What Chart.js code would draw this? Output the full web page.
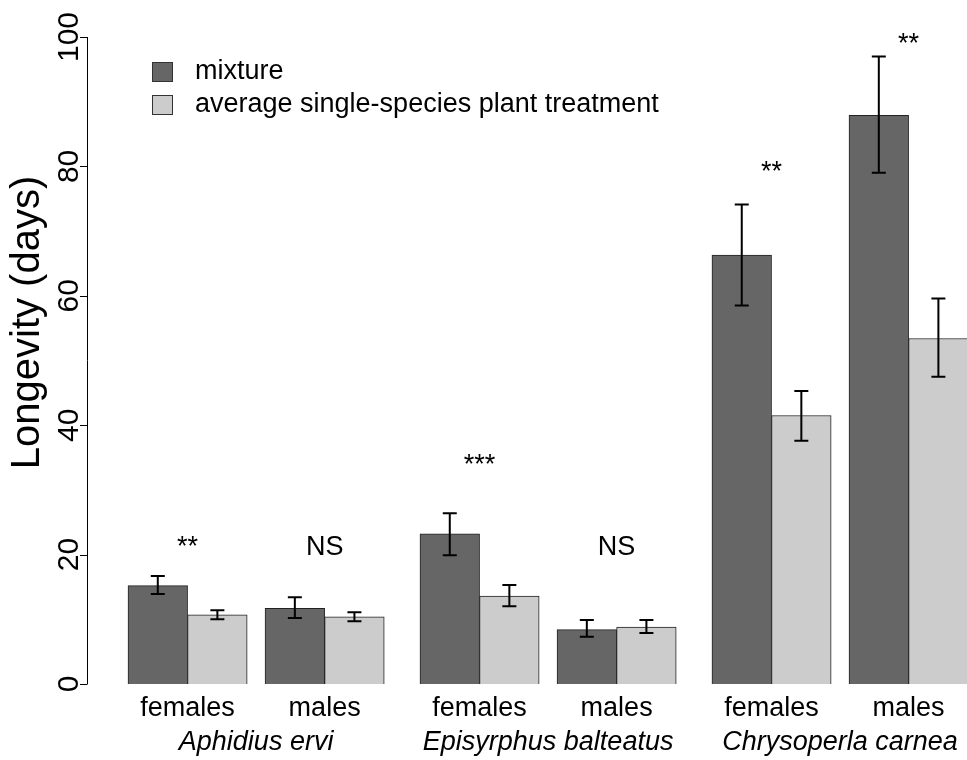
<!DOCTYPE html>
<html>
<head>
<meta charset="utf-8">
<script src="https://cdn.jsdelivr.net/npm/chart.js@4"></script>
<style>
  body { margin: 0; background: #fff; }
  #box { width: 967px; height: 760px; }
</style>
</head>
<body>
<div id="box"><canvas id="grafico" width="967" height="760"></canvas></div>
<script>
// valores (dias)
const sexos = ['females', 'males', 'females', 'males', 'females', 'males'];
const especies = ['Aphidius ervi', 'Episyrphus balteatus', 'Chrysoperla carnea'];
const mistura = [15.2, 11.7, 23.2, 8.4, 66.3, 87.9];
const misturaMin = [13.9, 10.2, 19.9, 7.3, 58.5, 79.0];
const misturaMax = [16.7, 13.4, 26.4, 9.9, 74.1, 97.0];
const media = [10.7, 10.4, 13.6, 8.8, 41.5, 53.4];
const mediaMin = [10.0, 9.7, 12.0, 7.9, 37.6, 47.5];
const mediaMax = [11.4, 11.1, 15.3, 9.9, 45.3, 59.6];
const signif = ['**', 'NS', '***', 'NS', '**', '**'];
const signifY = [20.0, 20.0, 32.6, 20.0, 77.9, 97.7];
const ticksY = [0, 20, 40, 60, 80, 100];

// espacamento tipo barplot do R (unidade = largura de uma barra)
const espacoSexo = 0.3;
const espacoEspecie = 0.6;
let inicios = [];
let pos = 0;
for (let i = 0; i < sexos.length; i++) {
    inicios.push(pos);
    pos += 2 + (i % 2 === 0 ? espacoSexo : espacoEspecie);
}
const centros = inicios.map(s => s + 1);

const fonte = '"Liberation Sans", Arial, sans-serif';

const desenhoR = {
    id: 'desenhoR',
    afterDatasetsDraw(chart) {
        const ctx = chart.ctx;
        const x = chart.scales.x, y = chart.scales.y;
        const area = chart.chartArea;
        ctx.save();

        // barras de erro
        ctx.strokeStyle = '#000';
        ctx.lineWidth = 2;
        const barras = [[0.5, misturaMin, misturaMax], [1.5, mediaMin, mediaMax]];
        for (let i = 0; i < sexos.length; i++) {
            for (let b of barras) {
                let px = x.getPixelForValue(inicios[i] + b[0]);
                let y1 = y.getPixelForValue(b[1][i]);
                let y2 = y.getPixelForValue(b[2][i]);
                ctx.beginPath();
                ctx.moveTo(px, y1); ctx.lineTo(px, y2);
                ctx.moveTo(px - 7, y1); ctx.lineTo(px + 7, y1);
                ctx.moveTo(px - 7, y2); ctx.lineTo(px + 7, y2);
                ctx.stroke();
            }
        }

        // asteriscos / NS
        ctx.fillStyle = '#000';
        ctx.textAlign = 'center';
        ctx.textBaseline = 'alphabetic';
        ctx.font = '27px ' + fonte;
        for (let i = 0; i < signif.length; i++) {
            ctx.fillText(signif[i], x.getPixelForValue(centros[i]), y.getPixelForValue(signifY[i]));
        }

        // eixo y
        ctx.lineWidth = 1;
        ctx.strokeStyle = '#000';
        let xe = area.left;
        ctx.beginPath();
        ctx.moveTo(xe + 0.5, y.getPixelForValue(ticksY[0]));
        ctx.lineTo(xe + 0.5, y.getPixelForValue(ticksY[ticksY.length - 1]));
        for (let t of ticksY) {
            let py = Math.round(y.getPixelForValue(t)) + 0.5;
            ctx.moveTo(xe + 0.5, py);
            ctx.lineTo(xe - 7, py);
        }
        ctx.stroke();
        ctx.font = '30px ' + fonte;
        for (let t of ticksY) {
            ctx.save();
            ctx.translate(xe - 9, y.getPixelForValue(t));
            ctx.rotate(-Math.PI / 2);
            ctx.fillText(String(t), 0, 0);
            ctx.restore();
        }
        ctx.save();
        ctx.font = '40px ' + fonte;
        ctx.translate(39, (y.getPixelForValue(0) + y.getPixelForValue(100)) / 2 - 38);
        ctx.rotate(-Math.PI / 2);
        ctx.fillText('Longevity (days)', 0, 0);
        ctx.restore();

        // rotulos do eixo x
        ctx.font = '27px ' + fonte;
        ctx.textBaseline = 'middle';
        for (let i = 0; i < sexos.length; i++) {
            ctx.fillText(sexos[i], x.getPixelForValue(centros[i]), area.bottom + 25);
        }
        ctx.font = 'italic 27px ' + fonte;
        for (let k = 0; k < especies.length; k++) {
            let cx = (x.getPixelForValue(centros[2 * k]) + x.getPixelForValue(centros[2 * k + 1])) / 2;
            ctx.fillText(especies[k], cx, area.bottom + 58);
        }

        // legenda
        ctx.font = '27px ' + fonte;
        ctx.textAlign = 'left';
        chart.data.datasets.forEach((ds, i) => {
            let ly = 71 + i * 33;
            ctx.fillStyle = ds.backgroundColor;
            ctx.fillRect(152, ly - 9, 20, 19);
            ctx.strokeStyle = '#333';
            ctx.strokeRect(152.5, ly - 8.5, 20, 19);
            ctx.fillStyle = '#000';
            ctx.fillText(ds.label, 195, ly + 1);
        });
        ctx.restore();
    }
};

new Chart(document.getElementById('grafico'), {
    type: 'bar',
    data: {
        datasets: [{
            label: 'mixture',
            data: mistura.map((v, i) => ({ x: inicios[i] + 0.5, y: v })),
            backgroundColor: '#666666',
            borderColor: '#222222',
            borderWidth: 1,
            grouped: false,
            barThickness: 59.6
        }, {
            label: 'average single-species plant treatment',
            data: media.map((v, i) => ({ x: inicios[i] + 1.5, y: v })),
            backgroundColor: '#cccccc',
            borderColor: '#222222',
            borderWidth: 1,
            grouped: false,
            barThickness: 59.6
        }]
    },
    options: {
        responsive: false,
        animation: false,
        devicePixelRatio: 1,
        layout: { padding: { left: 87, top: 37, right: 0, bottom: 76 } },
        plugins: { legend: { display: false }, tooltip: { enabled: false } },
        scales: {
            x: { type: 'linear', display: false, offset: false, min: -41 / 59.6, max: pos - espacoEspecie - 0.02 },
            y: { display: false, min: 0, max: 100 }
        }
    },
    plugins: [desenhoR]
});
</script>
</body>
</html>
